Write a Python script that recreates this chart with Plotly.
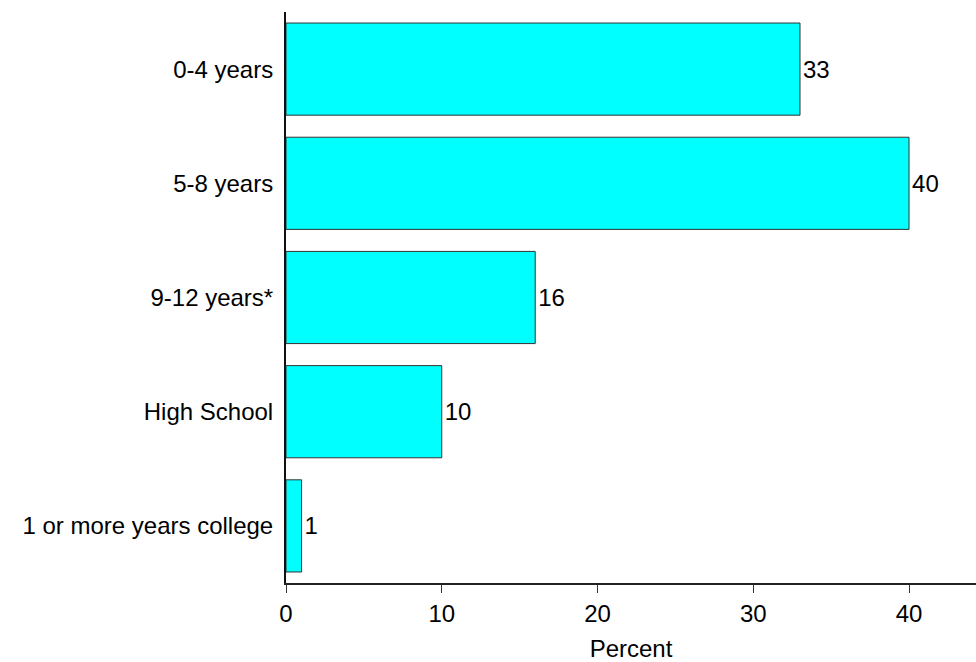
import plotly.graph_objects as go

categories = ["0-4 years", "5-8 years", "9-12 years*", "High School", "1 or more years college"]
values = [33, 40, 16, 10, 1]
x_ticks = [0, 10, 20, 30, 40]

FONT = "Liberation Sans, Arial"

fig = go.Figure(go.Bar(
    y=categories,
    x=values,
    orientation="h",
    width=0.807,
    marker=dict(color="#00FFFF", line=dict(color="#333333", width=1)),
    text=[str(v) for v in values],
    textposition="outside",
    textfont=dict(family=FONT, size=24, color="#000000"),
    cliponaxis=False,
))

fig.update_layout(
    width=976, height=662,
    margin=dict(l=286, r=0, t=12, b=79),
    paper_bgcolor="white", plot_bgcolor="white",
    font=dict(family=FONT, size=24, color="#000000"),
    showlegend=False,
    uniformtext=dict(minsize=24, mode="show"),
)
fig.update_xaxes(
    range=[0, 44.3], tickvals=x_ticks, ticks="outside", ticklen=8, tickwidth=1,
    tickcolor="#333333", showline=True, linecolor="#222222", linewidth=2,
    showgrid=False, zeroline=False,
    tickfont=dict(family=FONT, size=24, color="#000000"),
    title=dict(text="Percent", standoff=16, font=dict(family=FONT, size=24, color="#000000")),
)
fig.update_yaxes(
    categoryorder="array", categoryarray=categories[::-1],
    autorange=False, range=[-0.5, 4.5],
    showline=True, linecolor="#111111", linewidth=2, showgrid=False,
    ticks="", ticklabelstandoff=6, zeroline=False,
    tickfont=dict(family=FONT, size=24, color="#000000"),
)

fig.write_html("out.html")
